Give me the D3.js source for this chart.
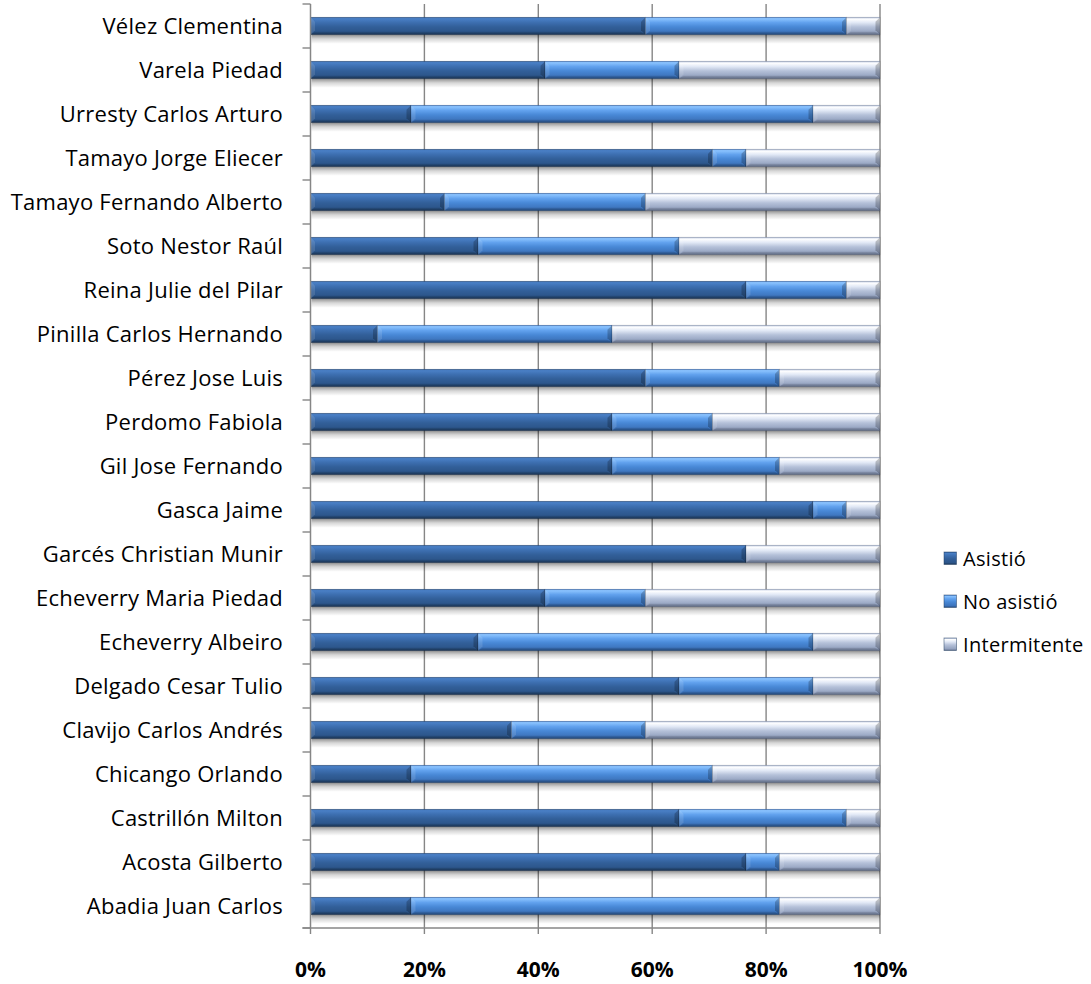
<!DOCTYPE html>
<html>
<head>
<meta charset="utf-8">
<script src="https://cdn.jsdelivr.net/npm/d3@7"></script>
<style>
  html, body { margin: 0; padding: 0; background: #ffffff; }
  svg { display: block; }
</style>
</head>
<body>
<svg id="chart" width="1091" height="984"></svg>
<script>
// ---- Data (Excel category order: first category is drawn at the bottom) ----
const categories = [
  "Abadia Juan Carlos", "Acosta Gilberto", "Castrillón Milton", "Chicango Orlando",
  "Clavijo Carlos Andrés", "Delgado Cesar Tulio", "Echeverry Albeiro",
  "Echeverry Maria Piedad", "Garcés Christian Munir", "Gasca Jaime",
  "Gil Jose Fernando", "Perdomo Fabiola", "Pérez Jose Luis",
  "Pinilla Carlos Hernando", "Reina Julie del Pilar", "Soto Nestor Raúl",
  "Tamayo Fernando Alberto", "Tamayo Jorge Eliecer", "Urresty Carlos Arturo",
  "Varela Piedad", "Vélez Clementina"
];
const seriesNames = ["Asistió", "No asistió", "Intermitente"];
// number of sessions (out of 17) per category
const asistio      = [3, 13, 11, 3, 6, 11, 5, 7, 13, 15, 9, 9, 10, 2, 13, 5, 4, 12, 3, 7, 10];
const noAsistio    = [11, 1, 5, 9, 4, 4, 10, 3, 0, 1, 5, 3, 4, 7, 3, 6, 6, 1, 12, 4, 6];
const intermitente = [3, 3, 1, 5, 7, 2, 2, 7, 4, 1, 3, 5, 3, 8, 1, 6, 7, 4, 2, 6, 1];
const xTickValues = [0, 0.2, 0.4, 0.6, 0.8, 1.0];

const rows = categories.map((c, i) => ({
  cat: c, "Asistió": asistio[i], "No asistió": noAsistio[i], "Intermitente": intermitente[i]
}));

// ---- Layout ----
const plot = { left: 310.5, right: 880, top: 4, bottom: 928 };
const svg = d3.select("#chart");

const x = d3.scaleLinear().domain([0, 1]).range([plot.left, plot.right]);
const y = d3.scaleBand()
  .domain(categories.slice().reverse())
  .range([plot.top, plot.bottom])
  .paddingInner(0.6)
  .paddingOuter(0.3);

const stack = d3.stack().keys(seriesNames).offset(d3.stackOffsetExpand);
const stacked = stack(rows);

const gridColor = "#868686";
const fontFamily = "'Open Sans', Lato, 'Liberation Sans', sans-serif";

// ---- Gradients ----
const defs = svg.append("defs");
const palettes = {
  "Asistió":      [["0", "#2b5794"], ["0.08", "#4a80c6"], ["0.3", "#3d6fb0"], ["0.55", "#325f99"], ["0.85", "#2c5589"], ["1", "#1d3859"]],
  "No asistió":   [["0", "#3b74c4"], ["0.08", "#8cc4ff"], ["0.3", "#62a2ee"], ["0.55", "#4888d6"], ["0.85", "#3d74bc"], ["1", "#244d82"]],
  "Intermitente": [["0", "#a5b5d6"], ["0.1", "#ffffff"], ["0.3", "#e2e9f6"], ["0.55", "#b5c1d9"], ["0.85", "#96a4c1"], ["1", "#667492"]]
};
seriesNames.forEach((s, i) => {
  const g = defs.append("linearGradient").attr("id", "grad" + i)
    .attr("x1", 0).attr("y1", 0).attr("x2", 0).attr("y2", 1);
  palettes[s].forEach(([o, c]) => g.append("stop").attr("offset", o).attr("stop-color", c));
});
const sh = defs.append("linearGradient").attr("id", "shadow")
  .attr("x1", 0).attr("y1", 0).attr("x2", 0).attr("y2", 1);
sh.append("stop").attr("offset", "0").attr("stop-color", "#000").attr("stop-opacity", 0.42);
sh.append("stop").attr("offset", "0.45").attr("stop-color", "#000").attr("stop-opacity", 0.16);
sh.append("stop").attr("offset", "1").attr("stop-color", "#000").attr("stop-opacity", 0);

// ---- Gridlines ----
svg.append("g").selectAll("line").data(xTickValues.slice(1)).join("line")
  .attr("x1", d => x(d)).attr("x2", d => x(d))
  .attr("y1", plot.top).attr("y2", plot.bottom)
  .attr("stroke", gridColor).attr("stroke-width", 1.4);

// ---- Shadows ----
svg.append("g").selectAll("rect").data(categories).join("rect")
  .attr("x", x(0) + 1).attr("width", x(1) - x(0) - 1)
  .attr("y", d => y(d) + y.bandwidth())
  .attr("height", 9)
  .attr("fill", "url(#shadow)");

// ---- Bars ----
const b = 4.5;
const seriesG = svg.append("g").selectAll("g").data(stacked).join("g");
seriesG.each(function(ser, si) {
  const g = d3.select(this);
  ser.forEach(d => {
    const x0 = x(d[0]), x1 = x(d[1]);
    if (x1 - x0 < 0.5) return;
    const y0 = y(d.data.cat), y1 = y0 + y.bandwidth();
    const seg = g.append("g");
    seg.append("rect").attr("x", x0).attr("y", y0).attr("width", x1 - x0).attr("height", y1 - y0)
      .attr("fill", "url(#grad" + si + ")");
    const bb = Math.min(b, (x1 - x0) / 2);
    seg.append("path").attr("d", `M${x0},${y0}L${x0 + bb},${y0 + b}L${x0 + bb},${y1 - b}L${x0},${y1}Z`)
      .attr("fill", "#ffffff").attr("fill-opacity", 0.12);
    seg.append("path").attr("d", `M${x1},${y0}L${x1 - bb},${y0 + b}L${x1 - bb},${y1 - b}L${x1},${y1}Z`)
      .attr("fill", "#000000").attr("fill-opacity", 0.22);
    seg.append("path").attr("d", `M${x0},${y1}L${x0 + bb},${y1 - 3}L${x1 - bb},${y1 - 3}L${x1},${y1}Z`)
      .attr("fill", "#000000").attr("fill-opacity", 0.12);
    seg.append("rect").attr("x", x0).attr("y", y0).attr("width", x1 - x0).attr("height", y1 - y0)
      .attr("fill", "none").attr("stroke", "#000").attr("stroke-opacity", 0.25).attr("stroke-width", 0.6);
  });
});

// ---- Axes ----
svg.append("line")
  .attr("x1", plot.left).attr("x2", plot.left)
  .attr("y1", plot.top).attr("y2", plot.bottom)
  .attr("stroke", gridColor).attr("stroke-width", 1.5);
const boundaries = d3.range(categories.length + 1).map(i => y.range()[0] + i * y.step());
svg.append("g").selectAll("line").data(boundaries).join("line")
  .attr("x1", plot.left - 8).attr("x2", plot.left)
  .attr("y1", d => d).attr("y2", d => d)
  .attr("stroke", gridColor).attr("stroke-width", 1.4);

svg.append("line")
  .attr("x1", plot.left - 8).attr("x2", plot.right)
  .attr("y1", plot.bottom).attr("y2", plot.bottom)
  .attr("stroke", gridColor).attr("stroke-width", 1.5);
svg.append("g").selectAll("line").data(xTickValues).join("line")
  .attr("x1", d => x(d)).attr("x2", d => x(d))
  .attr("y1", plot.bottom).attr("y2", plot.bottom + 6)
  .attr("stroke", gridColor).attr("stroke-width", 1.4);

// x tick labels
const pct = d3.format(".0%");
svg.append("g").selectAll("text").data(xTickValues).join("text")
  .attr("x", d => x(d)).attr("y", 976.5)
  .attr("text-anchor", "middle")
  .attr("font-family", fontFamily).attr("font-weight", "bold").attr("font-size", 21)
  .attr("fill", "#000")
  .text(d => pct(d));

// y labels
svg.append("g").selectAll("text").data(categories).join("text")
  .attr("x", 283)
  .attr("y", d => y(d) + y.bandwidth() / 2)
  .attr("dy", "0.38em")
  .attr("text-anchor", "end")
  .attr("font-family", fontFamily).attr("font-size", 22)
  .attr("letter-spacing", 0.25)
  .attr("fill", "#000")
  .text(d => d);

// ---- Legend ----
const legend = svg.append("g").attr("transform", "translate(944,552)");
const li = legend.selectAll("g").data(seriesNames).join("g")
  .attr("transform", (d, i) => `translate(0,${i * 43})`);
li.append("rect").attr("width", 12.5).attr("height", 12.5)
  .attr("fill", (d, i) => "url(#grad" + i + ")")
  .attr("stroke", "#1f3a5f").attr("stroke-opacity", 0.6).attr("stroke-width", 0.8);
li.append("text").attr("x", 19).attr("y", 6.5).attr("dy", "0.36em")
  .attr("font-family", fontFamily).attr("font-size", 20).attr("letter-spacing", 0.3)
  .attr("fill", "#000")
  .text(d => d);
</script>
</body>
</html>
